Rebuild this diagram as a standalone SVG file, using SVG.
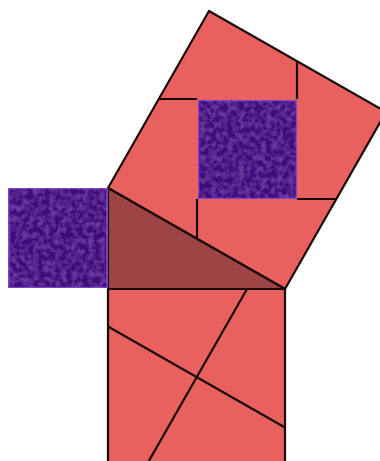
<svg xmlns="http://www.w3.org/2000/svg" width="380" height="461" viewBox="0 0 380 461">
<defs>
<filter id="tex" x="0" y="0" width="100%" height="100%">
<feTurbulence type="fractalNoise" baseFrequency="0.18" numOctaves="3" seed="4" result="n"/>
<feColorMatrix in="n" type="matrix" values="0 0 0 0 0.4  0 0 0 0 0.14  0 0 0 0 0.7  0 0 0 0.7 -0.25" result="c"/>
<feComposite in="c" in2="SourceGraphic" operator="in" result="t"/>
<feMerge><feMergeNode in="SourceGraphic"/><feMergeNode in="t"/></feMerge>
</filter>
<style>
.piece{fill:#e8615e;stroke:#1a0a0a;stroke-width:2.2;stroke-linejoin:round}
.tri{fill:#9e4444;stroke:#1a0a0a;stroke-width:2.2;stroke-linejoin:round}
.sq{fill:#3c107c;stroke:#7a3ec6;stroke-width:2.5}
.cut{stroke:#1a0a0a;stroke-width:2.2;fill:none}
</style>
</defs>
<g id="hyp-square">
<polygon class="piece" points="108,188 209,11 386,112 285,289"/>
</g>
<g id="bottom-square">
<rect class="piece" x="108" y="289" width="177" height="180"/>
</g>
<g id="connectors">
<line class="cut" x1="158.5" y1="99" x2="197" y2="99"/>
<line class="cut" x1="297" y1="62" x2="297" y2="99"/>
<line class="cut" x1="297" y1="199" x2="335.5" y2="199"/>
<line class="cut" x1="197" y1="199" x2="197" y2="238"/>
<line class="cut" x1="108" y1="326.5" x2="285" y2="427.5"/>
<line class="cut" x1="247" y1="289" x2="146" y2="466"/>
</g>
<g id="triangle">
<polygon class="tri" points="108,188 108,289 285,289"/>
</g>
<g id="left-square">
<rect class="sq" x="8.5" y="188" width="99" height="100" filter="url(#tex)"/>
</g>
<g id="inner-square">
<rect class="sq" x="198" y="100" width="99" height="99" filter="url(#tex)"/>
</g>
</svg>
